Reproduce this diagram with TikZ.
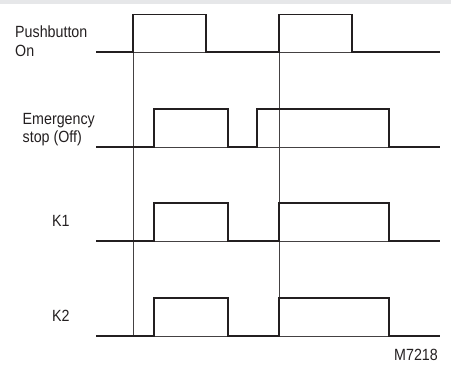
\documentclass[tikz,border=0pt]{standalone}
\usepackage{fontspec}
\setmainfont[FakeStretch=0.88]{Liberation Sans}
\definecolor{band}{HTML}{E6E7E9}
\definecolor{ink}{HTML}{231F20}
\begin{document}
\begin{tikzpicture}[x=1pt,y=-1pt,
  sig/.style={line width=1.4pt,ink,line join=miter},
  thin/.style={line width=0.7pt,ink!85},
  lbl/.style={anchor=base west,inner sep=0pt,text=ink,font=\fontsize{16.2}{19}\selectfont}]
\useasboundingbox (0,0) rectangle (451,367);
\fill[band] (0,0) rectangle (451,4);
% thin baselines
\foreach \y in {52,147,241,336} \draw[thin] (96,\y) -- (440,\y);
% thin verticals
\draw[thin] (133,14.5) -- (133,336);
\draw[thin] (279,14.5) -- (279,336);
% signals
\draw[sig] (96,52) -- (133,52) -- (133,14.5) -- (206,14.5) -- (206,52) -- (279,52) -- (279,14.5) -- (352,14.5) -- (352,52) -- (440,52);
\draw[sig] (96,147) -- (154,147) -- (154,109) -- (228,109) -- (228,147) -- (257,147) -- (257,109) -- (389,109) -- (389,147) -- (440,147);
\draw[sig] (96,241) -- (154,241) -- (154,203) -- (228,203) -- (228,241) -- (279,241) -- (279,203) -- (389,203) -- (389,241) -- (440,241);
\draw[sig] (96,336) -- (154,336) -- (154,298) -- (228,298) -- (228,336) -- (279,336) -- (279,298) -- (389,298) -- (389,336) -- (440,336);
% labels
\node[lbl] (pb1) at (15,37) {Pushbutton};
\node[lbl] (pb2) at (15,56) {On};
\node[lbl] (es1) at (22.5,124.5) {Emergency};
\node[lbl] (es2) at (22.5,142) {stop (Off)};
\node[lbl] (k1) at (52,226.7) {K1};
\node[lbl] (k2) at (52,321) {K2};
\node[lbl] (m) at (394,360.7) {M7218};
\end{tikzpicture}
\end{document}
